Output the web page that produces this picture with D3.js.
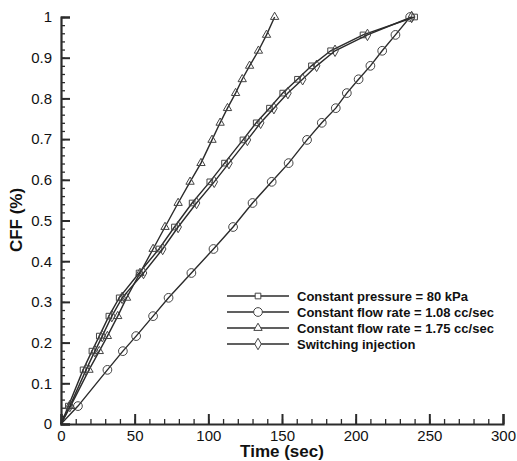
<!DOCTYPE html>
<html>
<head>
<meta charset="utf-8">
<script src="https://cdn.jsdelivr.net/npm/d3@7"></script>
<style>
  body { margin: 0; background: #fff; }
  svg { display: block; }
</style>
</head>
<body>
<svg></svg>
<script>
let width = 517, height = 461;

let svg = d3.select("svg")
    .attr("width", width)
    .attr("height", height);

// CFF levels where markers sit (same levels for every series)
const cffLevels = [0, 0.044, 0.133, 0.179, 0.216, 0.265, 0.31, 0.371, 0.43, 0.484, 0.543,
    0.595, 0.641, 0.698, 0.74, 0.776, 0.813, 0.847, 0.88, 0.917, 0.956, 1.0];

// time (sec) at each CFF level
const timePressure = [0, 5, 15, 21, 26, 32.5, 39.5, 53, 66.5, 77, 89, 101, 111, 123.5, 132.5, 141.5, 150.5, 160.5, 170, 183, 205, 240];
const timeFlow108 = [0, 11.5, 31.5, 42, 51, 62.5, 73, 88.5, 103.5, 116.8, 130, 143, 154.5, 167, 177, 186.5, 194, 202, 210, 218, 227, 237];
const timeFlow175 = [0, 6.5, 19, 26, 31.5, 38.5, 44.5, 53.6, 62.5, 70.6, 79.5, 87.6, 95, 102.5, 108, 113, 118.5, 123, 128, 134, 139.5, 145];
const timeSwitching = [0, 6, 17, 23, 28, 34.5, 41.5, 56, 69, 79.5, 92, 104, 114, 126.5, 135.5, 144.5, 154, 164, 173.5, 186, 208, 238];

const seriesNames = ["Constant pressure = 80 kPa", "Constant flow rate = 1.08 cc/sec",
    "Constant flow rate = 1.75 cc/sec", "Switching injection"];
const seriesTimes = [timePressure, timeFlow108, timeFlow175, timeSwitching];
const seriesSymbols = [d3.symbolSquare, d3.symbolCircle, d3.symbolTriangle, d3.symbolDiamond];
const symbolSizes = [32, 60, 30, 38];

const xTicks = [0, 50, 100, 150, 200, 250, 300];
const yTicks = [0, 0.1, 0.2, 0.3, 0.4, 0.5, 0.6, 0.7, 0.8, 0.9, 1];

const ink = "#2b2b2b";
const font = "Liberation Sans, Arial, sans-serif";

let x = d3.scaleLinear().domain([0, 300]).range([61, 503]);
let y = d3.scaleLinear().domain([0, 1]).range([424, 17]);

// minor ticks
svg.append("g")
    .attr("transform", "translate(61,0)")
    .call(d3.axisLeft(y).tickValues(d3.range(0, 1.001, 0.02)).tickSize(-4).tickFormat(""))
    .call(g => g.select(".domain").remove())
    .call(g => g.selectAll("line").attr("stroke", ink).attr("stroke-width", 1.3));

svg.append("g")
    .attr("transform", "translate(0,424)")
    .call(d3.axisBottom(x).tickValues(d3.range(0, 301, 10)).tickSize(-5).tickFormat(""))
    .call(g => g.select(".domain").remove())
    .call(g => g.selectAll("line").attr("stroke", ink).attr("stroke-width", 1.3));

// major axes
svg.append("g")
    .attr("transform", "translate(61,0)")
    .call(d3.axisLeft(y).tickValues(yTicks).tickSize(-9).tickPadding(9).tickFormat(d3.format("~g")))
    .call(g => g.select(".domain").attr("stroke", ink).attr("stroke-width", 2.2))
    .call(g => g.selectAll("line").attr("stroke", ink).attr("stroke-width", 2))
    .call(g => g.selectAll("text").attr("font-size", 15).attr("font-family", font).attr("fill", "#111"));

svg.append("g")
    .attr("transform", "translate(0,424)")
    .call(d3.axisBottom(x).tickValues(xTicks).tickSize(-10).tickPadding(6))
    .call(g => g.select(".domain").attr("stroke", ink).attr("stroke-width", 2.2))
    .call(g => g.selectAll("line").attr("stroke", ink).attr("stroke-width", 2))
    .call(g => g.selectAll("text").attr("font-size", 15).attr("font-family", font).attr("fill", "#111"));

// axis titles
svg.append("text")
    .attr("x", 282)
    .attr("y", 457)
    .attr("text-anchor", "middle")
    .attr("font-size", 17)
    .attr("font-weight", "bold")
    .attr("font-family", font)
    .attr("fill", "#111")
    .text("Time (sec)");

svg.append("text")
    .attr("transform", "translate(22,220) rotate(-90)")
    .attr("text-anchor", "middle")
    .attr("font-size", 17)
    .attr("font-weight", "bold")
    .attr("font-family", font)
    .attr("fill", "#111")
    .text("CFF (%)");

// lines and markers
let line = d3.line()
    .x(d => x(d[0]))
    .y(d => y(d[1]));

seriesTimes.forEach((times, i) => {
    let pts = times.map((t, k) => [t, cffLevels[k]]);
    let g = svg.append("g");
    g.append("path")
        .datum(pts)
        .attr("d", line)
        .attr("fill", "none")
        .attr("stroke", ink)
        .attr("stroke-width", 1.4);
    g.selectAll("path.mk")
        .data(pts.slice(1))
        .enter()
        .append("path")
        .attr("class", "mk")
        .attr("transform", d => `translate(${x(d[0])},${y(d[1])})`)
        .attr("d", d3.symbol().type(seriesSymbols[i]).size(symbolSizes[i]))
        .attr("fill", "none")
        .attr("stroke", "#444")
        .attr("stroke-width", 1);
});

// legend
const legend = svg.append("g").attr("transform", "translate(227,296)");

seriesNames.forEach((name, i) => {
    let row = legend.append("g").attr("transform", `translate(0,${i * 16})`);
    row.append("line")
        .attr("x1", 0).attr("x2", 62)
        .attr("stroke", ink).attr("stroke-width", 1.4);
    row.append("path")
        .attr("transform", "translate(31,0)")
        .attr("d", d3.symbol().type(seriesSymbols[i]).size(symbolSizes[i]))
        .attr("fill", "#fff")
        .attr("stroke", "#444");
    row.append("text")
        .attr("x", 70)
        .attr("dy", "0.35em")
        .attr("font-size", 13)
        .attr("font-weight", "bold")
        .attr("font-family", font)
        .attr("fill", "#111")
        .text(name);
});
</script>
</body>
</html>
